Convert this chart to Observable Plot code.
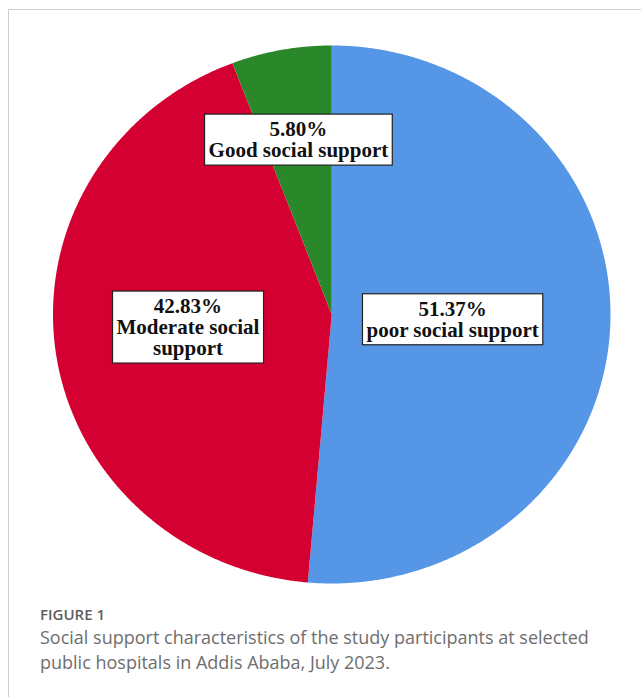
<!DOCTYPE html>
<html>
<head>
<meta charset="utf-8">
<script src="https://cdn.jsdelivr.net/npm/d3@7"></script>
<script src="https://cdn.jsdelivr.net/npm/@observablehq/plot@0.6"></script>
<style>
  html, body { margin: 0; padding: 0; background: #fff; overflow: hidden; width: 641px; height: 697px; }
  #frame { position: absolute; left: 8px; top: 9px; width: 900px; height: 900px; border: 1px solid #cfcfcf; box-sizing: border-box; }
  #chart { position: absolute; left: 0; top: 0; }
  #fig { position: absolute; left: 40px; top: 607px; font-family: "Open Sans", sans-serif; font-size: 15px; font-weight: 600; line-height: 15px; color: #5e5e5e; }
  #cap { position: absolute; left: 40px; top: 625px; width: 590px; font-family: "Open Sans", sans-serif; font-size: 18px; line-height: 25px; color: #6e6e6e; }
</style>
</head>
<body>
<div id="frame"></div>
<div id="chart"></div>
<div id="fig">FIGURE 1</div>
<div id="cap">Social support characteristics of the study participants at selected public hospitals in Addis Ababa, July 2023.</div>
<script>
// ---- data ----
const categories = ["poor social support", "Moderate social support", "Good social support"];
const percents = [51.37, 42.83, 5.80];
const labelTexts = ["poor social support", "Moderate social\nsupport", "Good social support"];
// ---- style ----
const colors = ["#5596e6", "#d50032", "#2a872a"];
const labelRadius = [0.434, 0.518, 0.66];
const labelAngleShift = [0, 0.047, 0];

const arcs = d3.pie().value(d => d).sort(null)(percents);
const pts = [];
arcs.forEach((a, i) => {
  pts.push({cat: categories[i], x: 0, y: 0});
  const n = Math.max(4, Math.ceil((a.endAngle - a.startAngle) / 0.005));
  for (let k = 0; k <= n; k++) {
    const t = a.startAngle + (a.endAngle - a.startAngle) * k / n;
    pts.push({cat: categories[i], x: Math.sin(t), y: Math.cos(t)});
  }
});
const labels = arcs.map((a, i) => {
  const m = (a.startAngle + a.endAngle) / 2 + labelAngleShift[i];
  return {
    x: labelRadius[i] * Math.sin(m),
    y: labelRadius[i] * Math.cos(m),
    text: percents[i].toFixed(2) + "%\n" + labelTexts[i]
  };
});

const plot = Plot.plot({
  width: 641,
  height: 600,
  margin: 0,
  x: {domain: [-1, 1], range: [52.5, 610], axis: null},
  y: {domain: [-1, 1], range: [583, 45], axis: null},
  color: {domain: categories, range: colors},
  marks: [
    Plot.line(pts, {x: "x", y: "y", z: "cat", fill: "cat", stroke: "none", curve: "linear-closed"}),
    Plot.text(labels, {
      x: "x", y: "y", text: "text",
      fontFamily: "Liberation Serif, 'Times New Roman', serif",
      fontWeight: "bold", fontSize: 21, lineHeight: 1, fill: "#111"
    })
  ]
});
document.getElementById("chart").append(plot);

// white boxes behind the labels
d3.select(plot).selectAll('g[aria-label="text"] text').each(function () {
  const b = this.getBBox();
  const r = document.createElementNS("http://www.w3.org/2000/svg", "rect");
  r.setAttribute("x", b.x - 4);
  r.setAttribute("y", b.y - 3);
  r.setAttribute("width", b.width + 8);
  r.setAttribute("height", b.height + 6);
  r.setAttribute("fill", "#fff");
  r.setAttribute("stroke", "#222");
  r.setAttribute("stroke-width", 1.2);
  const tr = this.getAttribute("transform");
  if (tr) r.setAttribute("transform", tr);
  this.parentNode.insertBefore(r, this);
});
</script>
</body>
</html>
